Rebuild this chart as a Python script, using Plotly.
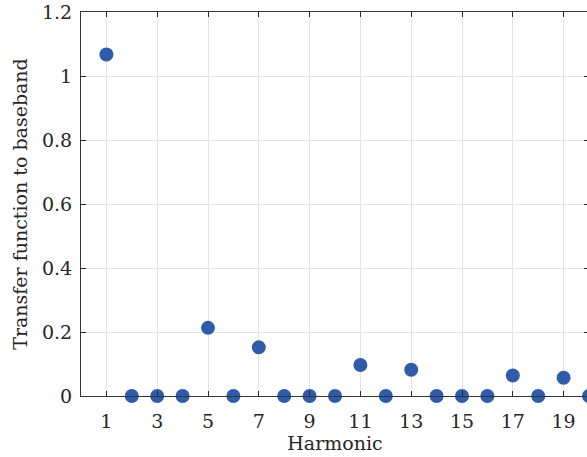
import plotly.graph_objects as go

harmonics = list(range(1, 21))
transfer = [1.067, 0, 0, 0, 0.213, 0, 0.152, 0, 0, 0, 0.097, 0, 0.082, 0, 0, 0, 0.064, 0, 0.057, 0]
x_ticks = [1, 3, 5, 7, 9, 11, 13, 15, 17, 19]
y_ticks = [0, 0.2, 0.4, 0.6, 0.8, 1, 1.2]
y_tick_labels = ["0", "0.2", "0.4", "0.6", "0.8", "1", "1.2"]

font_family = "DejaVu Serif, serif"

fig = go.Figure(go.Scatter(
    x=harmonics, y=transfer, mode="markers",
    marker=dict(size=14, color="#2F5BAA"),
    cliponaxis=False,
))

axis_common = dict(
    showline=True, linecolor="#333333", linewidth=1.2, mirror="ticks",
    ticks="inside", ticklen=5, tickcolor="#262626", tickwidth=1,
    showgrid=True, gridcolor="#E3E3E3", gridwidth=1, zeroline=False,
    tickfont=dict(family=font_family, size=19, color="#262626"),
)

fig.update_layout(
    width=590, height=457,
    margin=dict(l=81, r=1, t=12, b=61),
    plot_bgcolor="white", paper_bgcolor="white",
    showlegend=False,
    font=dict(family=font_family, color="#262626"),
    xaxis=dict(range=[0, 20], tickvals=x_ticks, ticklabelstandoff=8,
               title=dict(text="Harmonic", font=dict(size=19, family=font_family), standoff=4),
               **axis_common),
    yaxis=dict(range=[0, 1.2], tickvals=y_ticks, ticktext=y_tick_labels, ticklabelstandoff=4,
               title=dict(text="Transfer function to baseband", font=dict(size=19, family=font_family), standoff=9),
               **axis_common),
)

fig.write_html(
    "out.html",
    config={"displayModeBar": False},
    post_script="document.body.style.margin='0';document.documentElement.style.overflow='hidden';",
)
